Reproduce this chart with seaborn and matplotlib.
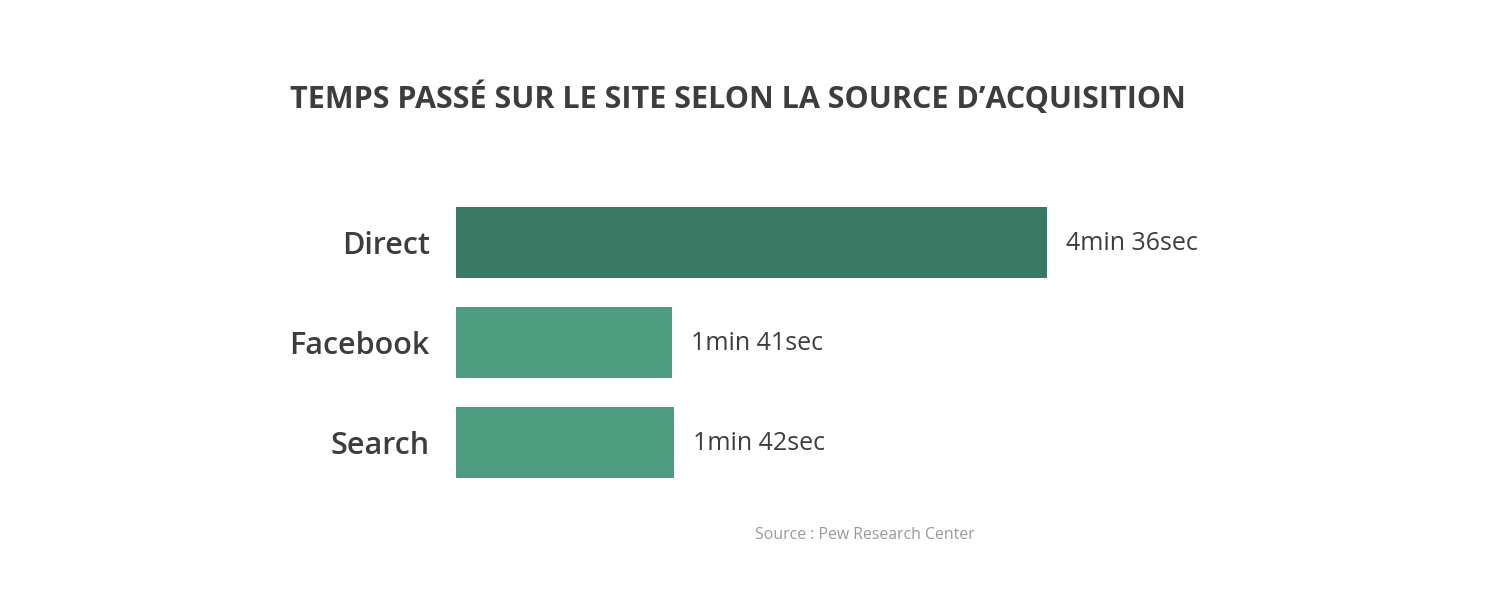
import matplotlib
matplotlib.use("Agg")
import matplotlib.pyplot as plt
import seaborn as sns
import pandas as pd

# data (seconds)
sources = ["Direct", "Facebook", "Search"]
seconds = [276, 101, 102]
labels = ["4min 36sec", "1min 41sec", "1min 42sec"]
colors = ["#3a7a64", "#4d9c80", "#4d9c80"]

df = pd.DataFrame({"source": sources, "seconds": seconds})

sns.set_theme(style="white")
plt.rcParams["font.family"] = ["Open Sans", "DejaVu Sans"]

W, H = 1507, 598
fig = plt.figure(figsize=(W / 100, H / 100), dpi=100)
xmax = 300
px_per_sec = 591 / 276
ax = fig.add_axes([456 / W, (H - 492.5) / H, xmax * px_per_sec / W, 300 / H])

sns.barplot(data=df, x="seconds", y="source", hue="source", palette=colors,
            orient="h", width=0.71, legend=False, ax=ax, saturation=1,
            linewidth=0)

ax.set_xlim(0, xmax)
ax.set_ylim(2.5, -0.5)
ax.set_xlabel("")
ax.set_ylabel("")
ax.set_xticks([])
for s in ax.spines.values():
    s.set_visible(False)
ax.tick_params(axis="y", length=0, pad=19, labelsize=22, labelcolor="#3d3d3d")
for t in ax.get_yticklabels():
    t.set_fontweight("semibold")

for i, (v, lab) in enumerate(zip(seconds, labels)):
    ax.annotate(lab, (v, i), xytext=(13.5, -0.8), textcoords="offset points",
                va="center", ha="left", fontsize=18, color="#3d3d3d")

fig.text(737.5 / W, 1 - 98 / H, "TEMPS PASSÉ SUR LE SITE SELON LA SOURCE D’ACQUISITION",
         ha="center", va="center", fontsize=22, fontweight="bold", color="#3d3d3d")
fig.text(864.5 / W, 1 - 535 / H, "Source : Pew Research Center",
         ha="center", va="center", fontsize=11.4, color="#999999")

fig.savefig("out.png", dpi=100, facecolor="white")
